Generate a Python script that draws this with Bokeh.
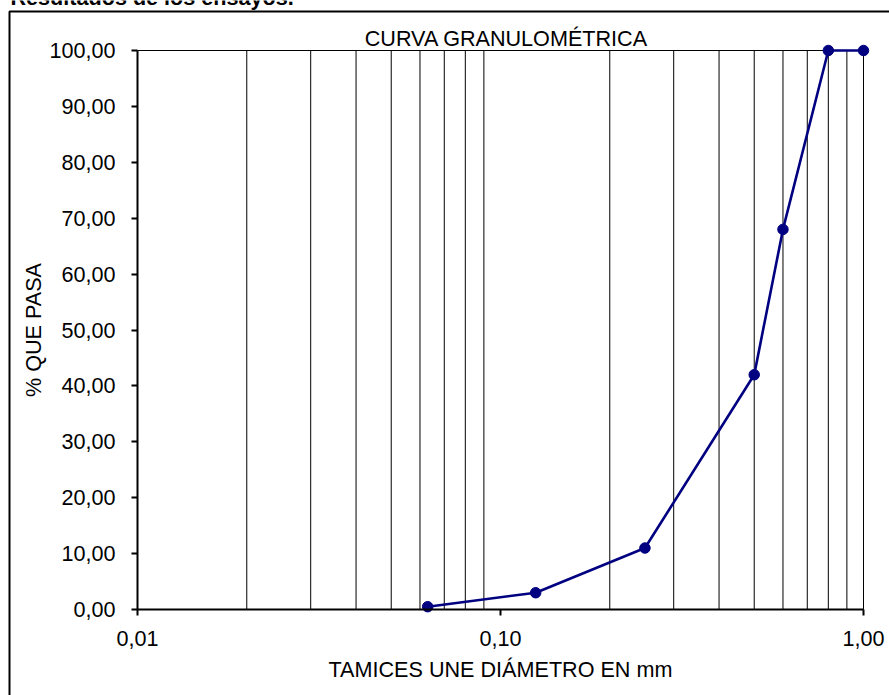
from bokeh.plotting import figure
from bokeh.models import (Range1d, FixedTicker, CustomJSTickFormatter, Label,
                          BoxAnnotation, GlobalInlineStyleSheet)
from bokeh.embed import file_html
from bokeh.resources import INLINE

# ---- data ----
sieve_mm = [0.063, 0.125, 0.25, 0.5, 0.6, 0.8, 1.0]
pct_passing = [0.5, 3.0, 11.0, 42.0, 68.0, 100.0, 100.0]
x_ticks = [0.01, 0.1, 1.0]
y_ticks = [0, 10, 20, 30, 40, 50, 60, 70, 80, 90, 100]
grid_x = [0.02, 0.03, 0.04, 0.05, 0.06, 0.07, 0.08, 0.09,
          0.2, 0.3, 0.4, 0.5, 0.6, 0.7, 0.8, 0.9]
x_min, x_max = 0.01, 1.0
y_min, y_max = 0.0, 100.0
title_text = "CURVA GRANULOMÉTRICA"
x_label = "TAMICES UNE DIÁMETRO EN mm"
y_label = "% QUE PASA"
caption = "Resultados de los ensayos."

# ---- geometry (page pixels) ----
W, H = 889, 695
FL, FR, FT, FB = 137, 863, 50, 609
PX_DEC = (FR - FL) / 2.0
PX_Y = (FB - FT) / 100.0


def px_to_x(px):
    return 10 ** (-2 + (px - FL) / PX_DEC)


def px_to_y(py):
    return (FB - py) / PX_Y


FONT = "Liberation Sans"
FS = "21.6px"

p = figure(
    x_axis_type="log",
    x_range=Range1d(px_to_x(0), px_to_x(W)),
    y_range=Range1d(px_to_y(H), px_to_y(0)),
    frame_width=W,
    frame_height=H,
    min_border=0,
    output_backend="svg",
    toolbar_location=None,
)
p.stylesheets = [GlobalInlineStyleSheet(css="html, body { margin: 0 !important; padding: 0; overflow: hidden; }")]
p.outline_line_color = None
p.background_fill_color = "white"
p.border_fill_color = "white"
p.xgrid.visible = False
p.ygrid.visible = False

fmt = CustomJSTickFormatter(code="return tick.toFixed(2).replace('.', ',');")

xa = p.xaxis[0]
xa.ticker = FixedTicker(ticks=x_ticks, minor_ticks=[])
xa.formatter = fmt
xa.bounds = (x_min, x_max)
xa.fixed_location = y_min
xa.axis_label = x_label

ya = p.yaxis[0]
ya.ticker = FixedTicker(ticks=y_ticks, minor_ticks=[])
ya.formatter = fmt
ya.bounds = (y_min, y_max)
ya.fixed_location = x_min
ya.axis_label = y_label

for ax in (xa, ya):
    ax.axis_line_color = "black"
    ax.axis_line_width = 2
    ax.major_tick_line_color = "black"
    ax.major_tick_line_width = 2
    ax.major_tick_out = 6
    ax.major_tick_in = 0
    ax.minor_tick_line_color = None
    ax.major_label_text_font = FONT
    ax.major_label_text_font_size = FS
    ax.major_label_text_color = "black"
    ax.axis_label_text_font = FONT
    ax.axis_label_text_font_size = FS
    ax.axis_label_text_font_style = "normal"
    ax.axis_label_text_color = "black"

xa.major_label_standoff = 15
xa.axis_label_standoff = 8
ya.major_label_standoff = 16
ya.axis_label_standoff = 0

# vertical grid lines and top/right borders of the plot area
n = len(grid_x)
p.segment(x0=grid_x, y0=[y_min] * n, x1=grid_x, y1=[y_max] * n,
          line_color="black", line_width=1)
p.segment(x0=[x_min, x_max], y0=[y_max, y_min], x1=[x_max, x_max], y1=[y_max, y_max],
          line_color="black", line_width=1)

# data
p.line(sieve_mm, pct_passing, line_color="#000080", line_width=2.6)
p.scatter(sieve_mm, pct_passing, size=10.5, fill_color="#000080", line_color="#000080")

# title inside chart area
p.add_layout(Label(x=px_to_x(506), y=px_to_y(38), text=title_text,
                   text_align="center", text_baseline="middle",
                   text_font=FONT, text_font_size=FS, text_color="black"))

# caption (cut off at the top, as in the source)
p.add_layout(Label(x=px_to_x(10), y=px_to_y(-3), text=caption,
                   text_align="left", text_baseline="alphabetic",
                   text_font=FONT, text_font_size=FS, text_font_style="bold",
                   text_color="black"))

# outer chart frame
p.add_layout(BoxAnnotation(left=px_to_x(9), right=px_to_x(W + 50),
                           top=px_to_y(11), bottom=px_to_y(H + 50),
                           fill_alpha=0, line_color="black", line_alpha=1.0,
                           line_width=2))

open("out.html", "w").write(file_html(p, INLINE))
